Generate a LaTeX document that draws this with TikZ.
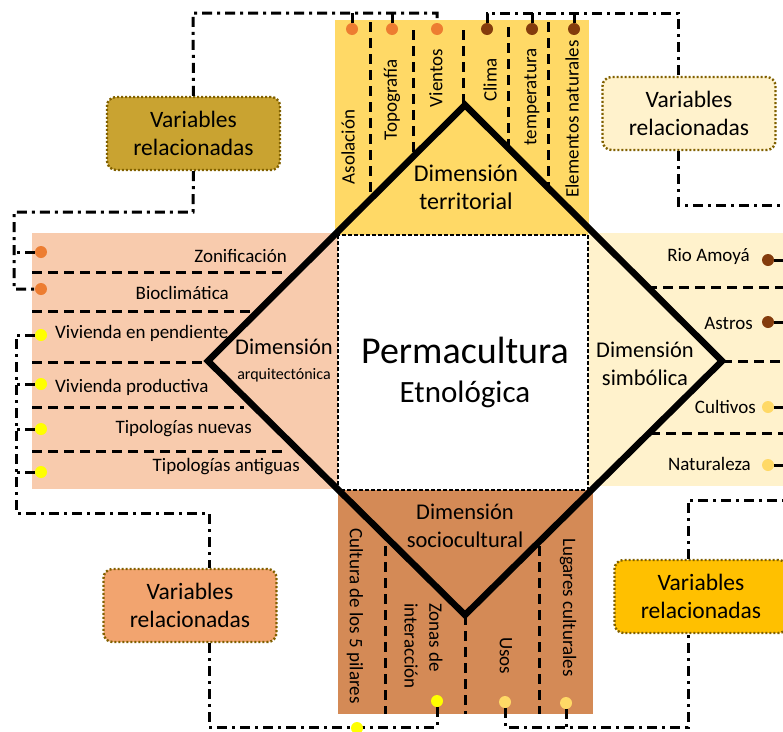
\documentclass[tikz,border=0pt]{standalone}
\usepackage{fontspec}
\setmainfont{Carlito}
\definecolor{cTop}{HTML}{FFD966}
\definecolor{cLeft}{HTML}{F8CBAD}
\definecolor{cRight}{HTML}{FFF2CC}
\definecolor{cBot}{HTML}{D48A56}
\definecolor{cTL}{HTML}{C9A331}
\definecolor{cBL}{HTML}{F2A46F}
\definecolor{cBR}{HTML}{FFC000}
\definecolor{cDotted}{HTML}{806000}
\definecolor{dOr}{HTML}{ED7D31}
\definecolor{dBr}{HTML}{843C0C}
\definecolor{dYe}{HTML}{FFFF00}
\definecolor{dGo}{HTML}{FFD966}
\tikzset{
  dd/.style={line width=3pt, dash pattern=on 10pt off 5pt on 3pt off 5pt},
  dsh/.style={line width=3pt, dash pattern=on 10pt off 6pt},
  vbox/.style={rounded corners=9pt, draw=cDotted, line width=2.4pt, dash pattern=on 2pt off 2pt,
    minimum width=173pt, minimum height=73pt, align=center, inner sep=0pt,
    font=\fontsize{23.5}{28}\selectfont},
  dotn/.style={circle, inner sep=0pt, minimum size=12pt},
  lab/.style={font=\fontsize{19}{22}\selectfont, inner sep=0pt},
  dimlab/.style={font=\fontsize{22.5}{28}\selectfont, inner sep=0pt, align=center},
}
\begin{document}
\begin{tikzpicture}[x=1pt,y=-1pt]
\useasboundingbox (0,0) rectangle (783,731);
% coloured fields
\fill[cTop] (335,20) rectangle (589,235);
\fill[cLeft] (32,233) rectangle (338,489);
\fill[cRight] (588,233) rectangle (783,486);
\fill[cBot] (338,489) rectangle (593,714);
\fill[white] (338,235) rectangle (588,490);
\draw[line width=2pt, dash pattern=on 4pt off 2pt] (338,235) rectangle (588,490);

% diamond corners
\coordinate (dT) at (465,105);
\coordinate (dL) at (208,361);
\coordinate (dR) at (722,361);
\coordinate (dB) at (465,615);

% top dashed separators
\draw[dsh] (370,22) -- (370,200);
\draw[dsh] (413,30) -- (413,157);
\draw[dsh] (463,30) -- (463,105);
\draw[dsh] (508,27) -- (508,148);
\draw[dsh] (548,22) -- (548,188);
% left dashed separators
\draw[dsh] (32,272) -- (288,272);
\draw[dsh] (32,311) -- (250,311);
\draw[dsh] (32,362) -- (206,362);
\draw[dsh] (32,407) -- (244,407);
\draw[dsh] (32,451) -- (288,451);
% right dashed separators
\draw[dsh] (647,287) -- (783,287);
\draw[dsh] (722,361) -- (783,361);
\draw[dsh] (650,433) -- (783,433);
% bottom dashed separators
\draw[dsh] (385,546) -- (385,714);
\draw[dsh] (465,615) -- (465,714);
\draw[dsh] (539,546) -- (539,714);

% centre texts
\node[inner sep=0pt, font=\fontsize{38}{40}\selectfont] (perm) at (465,350) {Permacultura};
\node[inner sep=0pt, font=\fontsize{31}{34}\selectfont] (etno) at (465,394) {Etnológica};

% dimension labels
\node[dimlab, font=\fontsize{24}{28}\selectfont] (dimT) at (466,187) {Dimensión\\territorial};
\node[dimlab] (dimA1) at (284,347) {Dimensión};
\node[inner sep=0pt, font=\fontsize{16}{18}\selectfont] (dimA2) at (284,375) {arquitectónica};
\node[dimlab] (dimS) at (645,364) {Dimensión\\simbólica};
\node[dimlab] (dimC) at (465,526) {Dimensión\\sociocultural};

% top labels
\node[lab, rotate=90] (tAs) at (348,147) {Asolación};
\node[lab, rotate=90] (tTo) at (392,100) {Topografía};
\node[lab, rotate=90] (tVi) at (436,78) {Vientos};
\node[lab, rotate=90] (tCl) at (490,80) {Clima};
\node[lab, rotate=90] (tTe) at (532,97) {temperatura};
\node[lab, rotate=90] (tEl) at (572,119) {Elementos naturales};

% left labels
\node[lab, anchor=east] (lZo) at (287,256) {Zonificación};
\node[lab, anchor=east] (lBi) at (229,293) {Bioclimática};
\node[lab, anchor=west] (lVp) at (55,333) {Vivienda en pendiente};
\node[lab, anchor=west] (lVd) at (55,387) {Vivienda productiva};
\node[lab, anchor=east] (lTn) at (252,429) {Tipologías nuevas};
\node[lab, anchor=east] (lTa) at (300,467) {Tipologías antiguas};

% right labels
\node[lab, anchor=east] (rRA) at (750,256) {Rio Amoyá};
\node[lab, anchor=east] (rAs) at (753,323) {Astros};
\node[lab, anchor=east] (rCu) at (756,407) {Cultivos};
\node[lab, anchor=east] (rNa) at (751,464) {Naturaleza};

% bottom labels
\node[lab, rotate=-90, anchor=west] (bCu) at (355,528) {Cultura de los 5 pilares};
\node[lab, rotate=-90, anchor=west] (bZo) at (436,603) {Zonas de};
\node[lab, rotate=-90, anchor=west] (bIn) at (411,603) {interacción};
\node[lab, rotate=-90, anchor=west] (bUs) at (506,637) {Usos};
\node[lab, rotate=-90, anchor=west] (bLu) at (568,538) {Lugares culturales};

% diamond
\draw[line width=6.5pt, line join=miter] (dT) -- (dR) -- (dB) -- (dL) -- cycle;

% Variables boxes
\node[vbox, fill=cTL] (vbTL) at (193.5,133.5) {Variables\\relacionadas};
\node[vbox, fill=cRight] (vbTR) at (689,113.5) {Variables\\relacionadas};
\node[vbox, fill=cBL] (vbBL) at (190,605.5) {Variables\\relacionadas};
\node[vbox, fill=cBR] (vbBR) at (701,596.5) {Variables\\relacionadas};

% dots
\node[dotn, fill=dOr] (dAs) at (352,29) {};
\node[dotn, fill=dOr] (dTo) at (392,29) {};
\node[dotn, fill=dOr] (dVi) at (437,29) {};
\node[dotn, fill=dBr] (dCl) at (487,29) {};
\node[dotn, fill=dBr] (dTe) at (532,29) {};
\node[dotn, fill=dBr] (dEl) at (574,29) {};
\node[dotn, fill=dOr] (dZo) at (41,252) {};
\node[dotn, fill=dOr] (dBi) at (41,289) {};
\node[dotn, fill=dYe] (dVp) at (41,335) {};
\node[dotn, fill=dYe] (dVd) at (41,384) {};
\node[dotn, fill=dYe] (dTn) at (41,429) {};
\node[dotn, fill=dYe] (dTa) at (41,472) {};
\node[dotn, fill=dBr] (dRA) at (768,260) {};
\node[dotn, fill=dBr] (dAst) at (768,322) {};
\node[dotn, fill=dGo] (dCu) at (768,407) {};
\node[dotn, fill=dGo] (dNa) at (768,465) {};
\node[dotn, fill=dYe] (dZi) at (437,701) {};
\node[dotn, fill=dGo] (dUs) at (505,702) {};
\node[dotn, fill=dGo] (dLu) at (566,703) {};

% dash-dot connectors
\coordinate (tl) at (193,13);
\coordinate (tr) at (678,13);
\coordinate (tr2) at (678,205);
\coordinate (redge) at (783,205);
\coordinate (l1a) at (193,212);
\coordinate (l1b) at (14,212);
\coordinate (l2a) at (16,513);
\coordinate (l2b) at (209,513);
\coordinate (bl) at (209,727);
\coordinate (br) at (688,727);
\coordinate (br2) at (688,500);
\coordinate (bredge) at (783,500);

\draw[dd] (vbTL.north) -- (tl) -| (dVi.north);
\draw[dd] (dAs.north) -- (dAs.north |- tl);
\draw[dd] (dTo.north) -- (dTo.north |- tl);
\draw[dd] (dCl.north) |- (tr) -- (tr |- vbTR.north);
\draw[dd] (dTe.north) -- (dTe.north |- tr);
\draw[dd] (dEl.north) -- (dEl.north |- tr);
\draw[dd] (tr |- vbTR.south) -- (tr2) -- (redge);
\draw[dd] (dRA.east) -- (dRA.east -| redge);
\draw[dd] (dAst.east) -- (dAst.east -| redge);
\draw[dd] (dCu.east) -- (dCu.east -| redge);
\draw[dd] (dNa.east) -- (dNa.east -| redge);

\draw[dd] (vbTL.south) -- (l1a) -- (l1b) |- (dBi.west);
\draw[dd] (dZo.west) -- (dZo.west -| l1b);
\draw[dd] (dVp.west) -| (l2a) -- (l2b) -- (l2b |- vbBL.north);
\draw[dd] (dVd.west) -- (dVd.west -| l2a);
\draw[dd] (dTn.west) -- (dTn.west -| l2a);
\draw[dd] (dTa.west) -- (dTa.west -| l2a);

\draw[dd] (l2b |- vbBL.south) -- (bl) -| (dZi.south);
\draw[dd] (dUs.south) |- (br) -- (br |- vbBR.south);
\draw[dd] (dLu.south) -- (dLu.south |- br);
\draw[dd] (br |- vbBR.north) -- (br2) -- (bredge);
\node[dotn, fill=dYe] (dCp) at (357,728) {};
\end{tikzpicture}
\end{document}
